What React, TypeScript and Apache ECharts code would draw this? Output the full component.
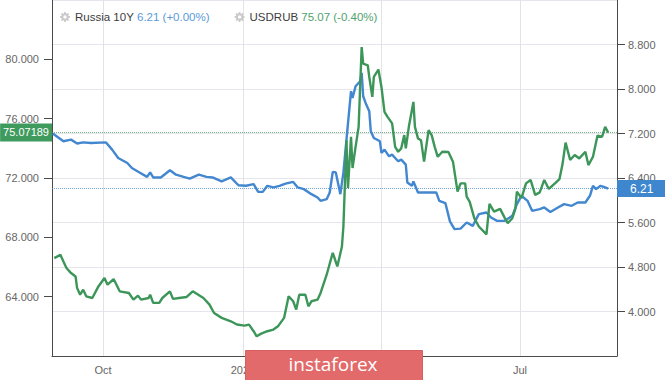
import React, { useEffect, useRef } from 'react';
import * as echarts from 'echarts';

// ---- Data ----
const rusName = 'Russia 10Y';
const rusLast = 6.21;
const rusChange = '+0.00%';
const usdName = 'USDRUB';
const usdLast = 75.07;
const usdLastPrecise = 75.07189;
const usdChange = '-0.40%';

const rusDates = [
  '2019-08-29', '2019-09-05', '2019-09-10', '2019-09-14', '2019-09-18', '2019-09-23', '2019-10-03', '2019-10-07',
  '2019-10-11', '2019-10-17', '2019-10-20', '2019-10-25', '2019-10-30', '2019-11-01', '2019-11-03', '2019-11-08',
  '2019-11-14', '2019-11-18', '2019-11-23', '2019-11-27', '2019-12-03', '2019-12-08', '2019-12-12', '2019-12-18',
  '2019-12-24', '2019-12-29', '2020-01-03', '2020-01-08', '2020-01-11', '2020-01-14', '2020-01-17', '2020-01-21',
  '2020-01-25', '2020-01-29', '2020-02-03', '2020-02-06', '2020-02-10', '2020-02-15', '2020-02-19', '2020-02-21',
  '2020-02-25', '2020-02-27', '2020-02-29', '2020-03-02', '2020-03-05', '2020-03-07', '2020-03-12', '2020-03-13',
  '2020-03-15', '2020-03-18', '2020-03-19', '2020-03-20', '2020-03-22', '2020-03-24', '2020-03-25', '2020-03-27',
  '2020-03-31', '2020-04-01', '2020-04-03', '2020-04-06', '2020-04-08', '2020-04-10', '2020-04-12', '2020-04-14',
  '2020-04-17', '2020-04-18', '2020-04-21', '2020-04-22', '2020-04-25', '2020-04-29', '2020-05-07', '2020-05-09',
  '2020-05-13', '2020-05-16', '2020-05-19', '2020-05-23', '2020-05-27', '2020-05-31', '2020-06-04', '2020-06-09',
  '2020-06-12', '2020-06-16', '2020-06-21', '2020-06-26', '2020-06-29', '2020-07-02', '2020-07-06', '2020-07-09',
  '2020-07-14', '2020-07-17', '2020-07-21', '2020-07-26', '2020-07-30', '2020-08-04', '2020-08-08', '2020-08-13',
  '2020-08-16', '2020-08-18', '2020-08-20', '2020-08-23', '2020-08-26', '2020-08-28',
];
const rusValues = [
  7.20, 7.06, 7.09, 7.02, 7.04, 7.03, 7.04, 6.91,
  6.76, 6.67, 6.58, 6.50, 6.42, 6.50, 6.41, 6.41,
  6.54, 6.46, 6.42, 6.39, 6.46, 6.42, 6.41, 6.34,
  6.41, 6.27, 6.26, 6.29, 6.15, 6.15, 6.26, 6.23,
  6.26, 6.30, 6.33, 6.23, 6.20, 6.11, 6.05, 5.99,
  6.02, 6.14, 6.51, 6.50, 6.11, 6.50, 7.96, 7.84,
  8.05, 8.14, 8.29, 7.87, 7.72, 7.60, 7.24, 7.12,
  7.06, 6.85, 6.91, 6.79, 6.82, 6.76, 6.70, 6.73,
  6.64, 6.32, 6.26, 6.34, 6.14, 6.14, 6.14, 5.99,
  5.95, 5.62, 5.48, 5.49, 5.60, 5.54, 5.75, 5.78,
  5.69, 5.63, 5.63, 5.72, 5.93, 6.08, 5.99, 5.81,
  5.84, 5.87, 5.79, 5.87, 5.93, 5.90, 5.96, 5.96,
  6.08, 6.26, 6.20, 6.26, 6.23, 6.21,
];

const usdDates = [
  '2019-08-30', '2019-09-03', '2019-09-05', '2019-09-07', '2019-09-10', '2019-09-13', '2019-09-14', '2019-09-16',
  '2019-09-18', '2019-09-20', '2019-09-24', '2019-09-28', '2019-10-02', '2019-10-04', '2019-10-08', '2019-10-12',
  '2019-10-18', '2019-10-21', '2019-10-24', '2019-10-26', '2019-10-31', '2019-11-01', '2019-11-03', '2019-11-07',
  '2019-11-09', '2019-11-14', '2019-11-16', '2019-11-20', '2019-11-25', '2019-11-29', '2019-12-06', '2019-12-10',
  '2019-12-13', '2019-12-18', '2019-12-24', '2019-12-28', '2020-01-02', '2020-01-05', '2020-01-08', '2020-01-10',
  '2020-01-13', '2020-01-17', '2020-01-21', '2020-01-24', '2020-01-28', '2020-01-31', '2020-02-03', '2020-02-05',
  '2020-02-07', '2020-02-11', '2020-02-13', '2020-02-15', '2020-02-19', '2020-02-21', '2020-02-25', '2020-02-29',
  '2020-03-03', '2020-03-06', '2020-03-07', '2020-03-09', '2020-03-10', '2020-03-12', '2020-03-13', '2020-03-15',
  '2020-03-17', '2020-03-19', '2020-03-20', '2020-03-23', '2020-03-24', '2020-03-26', '2020-03-27', '2020-03-30',
  '2020-04-01', '2020-04-03', '2020-04-05', '2020-04-08', '2020-04-10', '2020-04-12', '2020-04-14', '2020-04-16',
  '2020-04-17', '2020-04-19', '2020-04-22', '2020-04-23', '2020-04-25', '2020-04-27', '2020-04-29', '2020-05-02',
  '2020-05-04', '2020-05-06', '2020-05-08', '2020-05-11', '2020-05-15', '2020-05-18', '2020-05-21', '2020-05-23',
  '2020-05-26', '2020-05-27', '2020-05-29', '2020-06-01', '2020-06-04', '2020-06-09', '2020-06-11', '2020-06-14',
  '2020-06-18', '2020-06-21', '2020-06-23', '2020-06-26', '2020-06-28', '2020-06-29', '2020-07-02', '2020-07-05',
  '2020-07-08', '2020-07-11', '2020-07-14', '2020-07-17', '2020-07-20', '2020-07-24', '2020-07-27', '2020-07-29',
  '2020-07-31', '2020-08-03', '2020-08-06', '2020-08-09', '2020-08-13', '2020-08-15', '2020-08-18', '2020-08-21',
  '2020-08-24', '2020-08-26', '2020-08-28',
];
const usdValues = [
  66.60, 66.82, 66.37, 65.93, 65.59, 65.36, 64.58, 64.13,
  64.47, 64.02, 63.91, 64.69, 65.26, 64.81, 65.19, 64.36,
  64.25, 63.80, 64.07, 63.80, 63.91, 64.13, 63.58, 63.58,
  63.91, 64.36, 63.85, 63.91, 63.98, 64.36, 63.91, 63.46,
  62.90, 62.57, 62.34, 62.12, 62.05, 62.12, 61.67, 61.33,
  61.51, 61.67, 61.78, 62.00, 62.57, 64.02, 63.69, 63.13,
  64.13, 64.13, 63.35, 63.69, 63.80, 64.25, 65.48, 66.96,
  66.04, 67.36, 68.73, 74.55, 71.31, 74.78, 72.67, 74.10,
  75.45, 80.83, 79.71, 79.60, 78.81, 77.47, 78.81, 79.31,
  78.14, 76.46, 76.12, 75.68, 74.10, 73.77, 74.00, 74.89,
  74.00, 75.45, 77.13, 75.45, 74.67, 74.55, 73.10, 75.23,
  74.89, 74.10, 73.43, 73.77, 73.75, 73.10, 71.08, 71.64,
  71.64, 70.74, 70.39, 69.29, 68.73, 68.20, 70.25, 69.73,
  69.92, 69.31, 68.95, 69.29, 69.92, 71.08, 70.64, 71.64,
  71.87, 70.86, 71.03, 71.87, 71.26, 71.64, 71.93, 72.94,
  74.39, 73.21, 73.55, 73.32, 73.77, 72.87, 73.43, 74.86,
  74.78, 75.45, 75.07,
];

const xTickDates = ['2019-10-01', '2020-01-01', '2020-04-01', '2020-07-01'];
const xTickLabels = ['Oct', '2020', 'Apr', 'Jul'];

// ---- helpers ----
const ts = (s: string) => {
  const [y, m, d] = s.split('-').map(Number);
  return new Date(y, m - 1, d).getTime();
};
const X_MIN = new Date(2019, 7, 28, 12).getTime();
const X_MAX = new Date(2020, 8, 2, 19).getTime();
const xTickTimes = xTickDates.map(ts);

const FONT = '"Liberation Sans", Arial, Helvetica, sans-serif';
const BLUE = '#4287cf';
const GREEN = '#3d9659';
const AXIS = '#4a4a4a';
const LABEL = '#666666';

function gearPath() {
  const cx = 12, cy = 12, ro = 11, ri = 8, rh = 3.6;
  const p = (r: number, deg: number) => {
    const a = (deg * Math.PI) / 180;
    return `${(cx + r * Math.cos(a)).toFixed(2)} ${(cy + r * Math.sin(a)).toFixed(2)}`;
  };
  let d = '';
  for (let i = 0; i < 8; i++) {
    const b = i * 45;
    const seg = [p(ri, b - 15), p(ro, b - 9), p(ro, b + 9), p(ri, b + 15)];
    seg.forEach((s, j) => {
      d += (i === 0 && j === 0 ? 'M' : 'L') + s + ' ';
    });
  }
  d += 'Z ';
  for (let k = 0; k <= 16; k++) {
    d += (k === 0 ? 'M' : 'L') + p(rh, -k * 22.5) + ' ';
  }
  d += 'Z';
  return d;
}

export default function App() {
  const ref = useRef<HTMLDivElement>(null);

  useEffect(() => {
    if (!ref.current) return;
    const chart = echarts.init(ref.current, undefined, { renderer: 'svg' });

    const rusData = rusDates.map((d, i) => [ts(d), rusValues[i]]);
    const usdData = usdDates.map((d, i) => [ts(d), usdValues[i]]);

    const option: any = {
      animation: false,
      backgroundColor: '#ffffff',
      textStyle: { fontFamily: FONT },
      grid: { left: 52, right: 48, top: 0, bottom: 24, containLabel: false },
      legend: {
        left: 55,
        top: 6,
        itemGap: 25,
        itemWidth: 10,
        itemHeight: 10,
        selectedMode: false,
        icon: 'path://' + gearPath(),
        itemStyle: { color: '#c9c9c9', borderWidth: 0 },
        data: [rusName, usdName],
        formatter: (name: string) =>
          name === rusName
            ? `{n|${rusName}} {b|${rusLast.toFixed(2)} (${rusChange})}`
            : `{n|${usdName}} {g|${usdLast.toFixed(2)} (${usdChange})}`,
        textStyle: {
          fontFamily: FONT,
          fontSize: 11.5,
          color: '#3d3d3d',
          rich: {
            n: { fontFamily: FONT, fontSize: 11.5, color: '#3d3d3d' },
            b: { fontFamily: FONT, fontSize: 11.5, color: '#5a9ad9' },
            g: { fontFamily: FONT, fontSize: 11.5, color: '#4ea36c' },
          },
        },
      },
      xAxis: {
        type: 'value',
        min: X_MIN,
        max: X_MAX,
        axisLine: { show: true, onZero: false, lineStyle: { color: AXIS, width: 1 } },
        axisTick: { show: false, customValues: xTickTimes },
        splitLine: { show: false },
        axisLabel: {
          customValues: xTickTimes,
          formatter: (v: number) => {
            let best = 0;
            let bd = Infinity;
            xTickTimes.forEach((t, i) => {
              const dd = Math.abs(t - v);
              if (dd < bd) { bd = dd; best = i; }
            });
            return xTickLabels[best];
          },
          color: LABEL,
          fontSize: 11,
          margin: 8,
          showMinLabel: true,
          showMaxLabel: true,
        },
      },
      yAxis: [
        {
          type: 'value',
          position: 'left',
          min: 60,
          max: 84,
          interval: 4,
          axisLine: { show: true, lineStyle: { color: AXIS, width: 1 } },
          axisTick: { show: true, length: 8, lineStyle: { color: AXIS } },
          axisLabel: {
            formatter: (v: number) => v.toFixed(3),
            showMinLabel: false,
            showMaxLabel: false,
            margin: 13,
            color: LABEL,
            fontSize: 11,
          },
          splitLine: { show: false },
        },
        {
          type: 'value',
          position: 'right',
          min: 3.2,
          max: 9.6,
          interval: 0.8,
          axisLine: { show: true, lineStyle: { color: AXIS, width: 1 } },
          axisTick: { show: true, length: 8, lineStyle: { color: AXIS } },
          axisLabel: {
            formatter: (v: number) => v.toFixed(3),
            showMinLabel: false,
            showMaxLabel: false,
            margin: 11,
            color: LABEL,
            fontSize: 11,
          },
          splitLine: { show: true, lineStyle: { color: '#e5e5eb', width: 1 } },
        },
      ],
      series: [
        {
          name: rusName,
          type: 'line',
          yAxisIndex: 1,
          data: rusData,
          showSymbol: false,
          symbol: 'none',
          lineStyle: { color: BLUE, width: 2.4 },
          itemStyle: { color: BLUE },
          z: 3,
          markLine: {
            silent: true,
            symbol: ['none', 'none'],
            z: 1,
            data: [
              {
                yAxis: rusLast,
                lineStyle: { color: 'rgba(66,135,207,0.75)', type: 'dotted', width: 1 },
                label: {
                  show: true,
                  position: 'end',
                  distance: 0,
                  formatter: rusLast.toFixed(2),
                  color: '#ffffff',
                  backgroundColor: '#3e86cd',
                  padding: [2, 12, 2, 13],
                  fontSize: 12,
                  fontFamily: FONT,
                  lineHeight: 13,
                },
              },
            ],
          },
        },
        {
          name: usdName,
          type: 'line',
          yAxisIndex: 0,
          data: usdData,
          showSymbol: false,
          symbol: 'none',
          lineStyle: { color: GREEN, width: 2.4 },
          itemStyle: { color: GREEN },
          z: 4,
          markLine: {
            silent: true,
            symbol: ['none', 'none'],
            z: 1,
            data: [
              ...xTickTimes.map((t) => ({
                xAxis: t,
                lineStyle: { color: '#e2e2e9', type: 'solid', width: 1 },
                label: { show: false },
              })),
              {
                yAxis: usdLastPrecise,
                lineStyle: { color: 'rgba(61,150,89,0.7)', type: 'dotted', width: 1 },
                label: {
                  show: true,
                  position: 'start',
                  distance: 0,
                  formatter: String(usdLastPrecise),
                  color: '#ffffff',
                  backgroundColor: '#3f9a5e',
                  padding: [3, 3, 2, 3],
                  fontSize: 11,
                  fontFamily: FONT,
                  lineHeight: 13,
                },
              },
            ],
          },
        },
      ],
      graphic: [
        {
          type: 'rect',
          left: 245,
          top: 350,
          shape: { width: 177, height: 34 },
          style: { fill: '#e26a6a', stroke: '#d65f5f', lineWidth: 1 },
          z: 100,
        },
        {
          type: 'text',
          x: 333,
          y: 364,
          style: {
            text: 'instaforex',
            fill: '#ffffff',
            fontSize: 19,
            fontFamily: '"Open Sans", "Noto Sans", sans-serif',
            align: 'center',
            verticalAlign: 'middle',
          },
          z: 101,
        },
      ],
    };

    chart.setOption(option);
    return () => chart.dispose();
  }, []);

  return (
    <div
      ref={ref}
      style={{ position: 'absolute', left: 0, top: 0, width: 665, height: 380 }}
    />
  );
}
